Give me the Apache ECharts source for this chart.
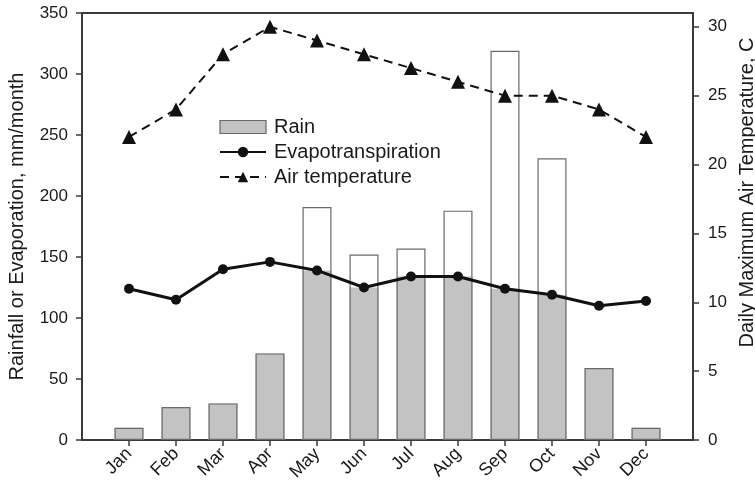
<!DOCTYPE html>
<html>
<head>
<meta charset="utf-8">
<script src="https://cdn.jsdelivr.net/npm/echarts@6/dist/echarts.min.js"></script>
<style>
  html, body { margin: 0; padding: 0; background: #fff; }
  #main { width: 755px; height: 488px; }
</style>
</head>
<body>
<div id="main"></div>
<script>
// months on the x axis
const months = ['Jan', 'Feb', 'Mar', 'Apr', 'May', 'Jun', 'Jul', 'Aug', 'Sep', 'Oct', 'Nov', 'Dec'];
// mm/month
const rain = [10, 27, 30, 71, 191, 152, 157, 188, 319, 231, 59, 10];
const evapo = [124, 115, 140, 146, 139, 125, 134, 134, 124, 119, 110, 114];
// deg C
const airTemp = [22, 24, 28, 30, 29, 28, 27, 26, 25, 25, 24, 22];
const leftTicks = [0, 50, 100, 150, 200, 250, 300, 350];
const rightTicks = [0, 5, 10, 15, 20, 25, 30];

const idx = months.map((m, i) => i);
const txt = '#1a1a1a';
const axisCol = '#3a3a3a';
const font = 'Liberation Sans, Arial, sans-serif';

let myChart = echarts.init(document.getElementById('main'));

let option = {
  animation: false,
  textStyle: { fontFamily: font },
  grid: {
    left: 82, right: 62, top: 13, bottom: 48,
    outerBoundsMode: 'none',
    show: true, borderColor: axisCol, borderWidth: 2, backgroundColor: 'transparent'
  },
  legend: {
    orient: 'vertical',
    left: 214, top: 112,
    itemWidth: 46, itemHeight: 13, itemGap: 5,
    textStyle: { fontSize: 20, color: txt, fontFamily: font, padding: [0, 0, 0, 3] },
    data: [
      { name: 'Rain', icon: 'rect', itemStyle: { color: '#c3c3c3', borderColor: '#6a6a6a', borderWidth: 1.2 } },
      { name: 'Evapotranspiration' },
      { name: 'Air temperature' }
    ]
  },
  xAxis: {
    type: 'value',
    min: -1, max: 12, interval: 1,
    splitLine: { show: false },
    axisLine: { show: true, lineStyle: { color: axisCol, width: 2 } },
    axisTick: { show: true, length: 6, customValues: idx, lineStyle: { color: axisCol, width: 1.5 } },
    axisLabel: {
      customValues: idx,
      formatter: v => months[v] || '',
      rotate: 45, margin: 11, fontSize: 18, color: txt
    }
  },
  yAxis: [
    {
      type: 'value',
      min: 0, max: 350, interval: 50,
      name: 'Rainfall or Evaporation, mm/month',
      nameLocation: 'middle', nameGap: 55, nameRotate: 90,
      nameTextStyle: { fontSize: 20, color: txt },
      splitLine: { show: false },
      axisLine: { show: true, onZero: false, lineStyle: { color: axisCol, width: 2 } },
      axisTick: { show: true, length: 6, lineStyle: { color: axisCol, width: 1.5 } },
      axisLabel: { fontSize: 17, color: txt, margin: 14, customValues: leftTicks }
    },
    {
      type: 'value',
      min: 0, max: 31,
      position: 'right',
      name: 'Daily Maximum Air Temperature, C',
      nameLocation: 'middle', nameGap: 37, nameRotate: 90,
      nameTextStyle: { fontSize: 20, color: txt, padding: [0, 0, 0, 68] },
      splitLine: { show: false },
      axisLine: { show: true, onZero: false, lineStyle: { color: axisCol, width: 2 } },
      axisTick: { show: true, length: 6, customValues: rightTicks, lineStyle: { color: axisCol, width: 1.5 } },
      axisLabel: { fontSize: 17, color: txt, margin: 15, customValues: rightTicks }
    }
  ],
  series: [
    { // grey part of the bar, up to the evapotranspiration
      name: 'Rain',
      type: 'bar',
      barWidth: 29,
      z: 2,
      itemStyle: { color: '#c3c3c3' },
      data: idx.map(i => [i, Math.min(rain[i], evapo[i])])
    },
    { // whole rain bar outline
      name: 'Rain total',
      type: 'bar',
      barWidth: 29,
      barGap: '-100%',
      z: 3,
      itemStyle: { color: 'rgba(255,255,255,0)', borderColor: '#6a6a6a', borderWidth: 1.2 },
      data: idx.map(i => [i, rain[i]])
    },
    {
      name: 'Evapotranspiration',
      type: 'line',
      yAxisIndex: 0,
      z: 5,
      symbol: 'circle',
      symbolSize: 10,
      lineStyle: { color: '#111', width: 3 },
      itemStyle: { color: '#111' },
      data: idx.map(i => [i, evapo[i]])
    },
    {
      name: 'Air temperature',
      type: 'line',
      yAxisIndex: 1,
      z: 5,
      symbol: 'triangle',
      symbolSize: 14,
      lineStyle: { color: '#111', width: 2, type: [9, 6] },
      itemStyle: { color: '#111' },
      data: idx.map(i => [i, airTemp[i]])
    }
  ]
};

myChart.setOption(option);
</script>
</body>
</html>
